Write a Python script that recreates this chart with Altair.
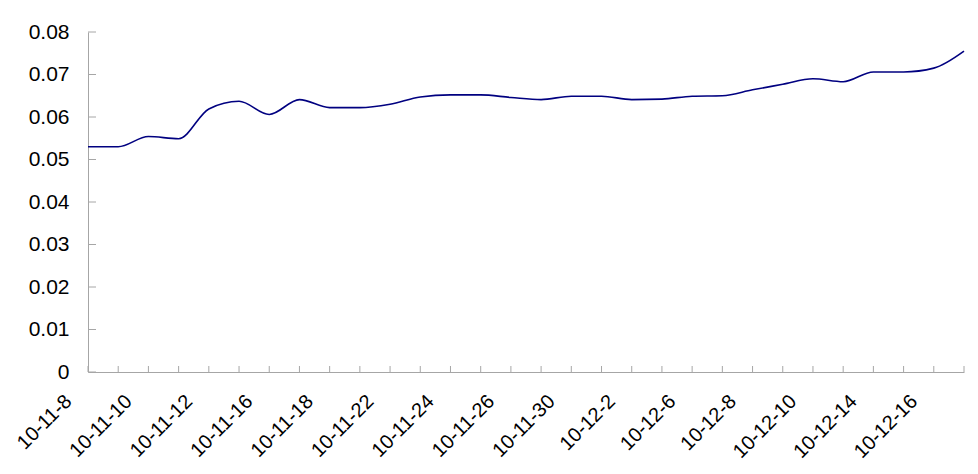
import json
import altair as alt
import pandas as pd

dates = ["10-11-8", "10-11-9", "10-11-10", "10-11-11", "10-11-12", "10-11-15",
         "10-11-16", "10-11-17", "10-11-18", "10-11-19", "10-11-22", "10-11-23",
         "10-11-24", "10-11-25", "10-11-26", "10-11-29", "10-11-30", "10-12-1",
         "10-12-2", "10-12-3", "10-12-6", "10-12-7", "10-12-8", "10-12-9",
         "10-12-10", "10-12-13", "10-12-14", "10-12-15", "10-12-16", "10-12-17"]
values = [0.0530, 0.0530, 0.0554, 0.0549, 0.0619, 0.0637, 0.0606, 0.0641, 0.0622, 0.0622,
          0.0630, 0.0647, 0.0652, 0.0652, 0.0646, 0.0641, 0.0649, 0.0649, 0.0641, 0.0642,
          0.0649, 0.0650, 0.0664, 0.0677, 0.0690, 0.0683, 0.0706, 0.0706, 0.0715, 0.0755]
y_ticks = [0, 0.01, 0.02, 0.03, 0.04, 0.05, 0.06, 0.07, 0.08]

df = pd.DataFrame({"idx": list(range(len(dates))), "date": dates, "value": values})
ytick_df = pd.DataFrame({"v": y_ticks})
xtick_df = pd.DataFrame({"idx": list(range(len(dates)))})

FONT = "Liberation Sans"
GRAY = "#a6a6a6"
label_expr = json.dumps(dates) + "[datum.value]"

xscale = alt.Scale(domain=[0, len(dates) - 1], nice=False, zero=False)
yscale = alt.Scale(domain=[0, 0.08], nice=False)

line = alt.Chart(df).mark_line(color="#000080", strokeWidth=1.6, interpolate="monotone").encode(
    x=alt.X("idx:Q", scale=xscale,
            axis=alt.Axis(values=list(range(0, len(dates) - 1, 2)), labelExpr=label_expr,
                          title=None, grid=False, ticks=False, tickSize=0,
                          domainColor=GRAY, domainWidth=1,
                          labelAngle=-45, labelAlign="right", labelBaseline="middle",
                          labelPadding=26, labelOffset=-20,
                          labelFont=FONT, labelFontSize=20, labelColor="#000000",
                          labelOverlap=False, labelBound=False, labelFlush=False)),
    y=alt.Y("value:Q", scale=yscale,
            axis=alt.Axis(values=y_ticks, format=".2~f", title=None, grid=False,
                          ticks=False, tickSize=0, domainColor=GRAY, domainWidth=1,
                          labelPadding=19, labelFont=FONT, labelFontSize=21,
                          labelColor="#000000", labelOverlap=False)),
)

yt = alt.Chart(ytick_df).mark_rule(color=GRAY, strokeWidth=1).encode(
    y=alt.Y("v:Q", scale=yscale), x=alt.value(0), x2=alt.value(8)
)
xt = alt.Chart(xtick_df).mark_rule(color=GRAY, strokeWidth=1).encode(
    x=alt.X("idx:Q", scale=xscale), y=alt.value(340), y2=alt.value(334)
)

chart = alt.layer(yt, xt, line).properties(
    width=876, height=340,
    autosize=alt.AutoSizeParams(type="none"),
    padding={"left": 80, "top": 24, "right": 6, "bottom": 100},
).configure_view(stroke=None)

chart.save("out.html", embed_options={"renderer": "svg", "actions": False})
